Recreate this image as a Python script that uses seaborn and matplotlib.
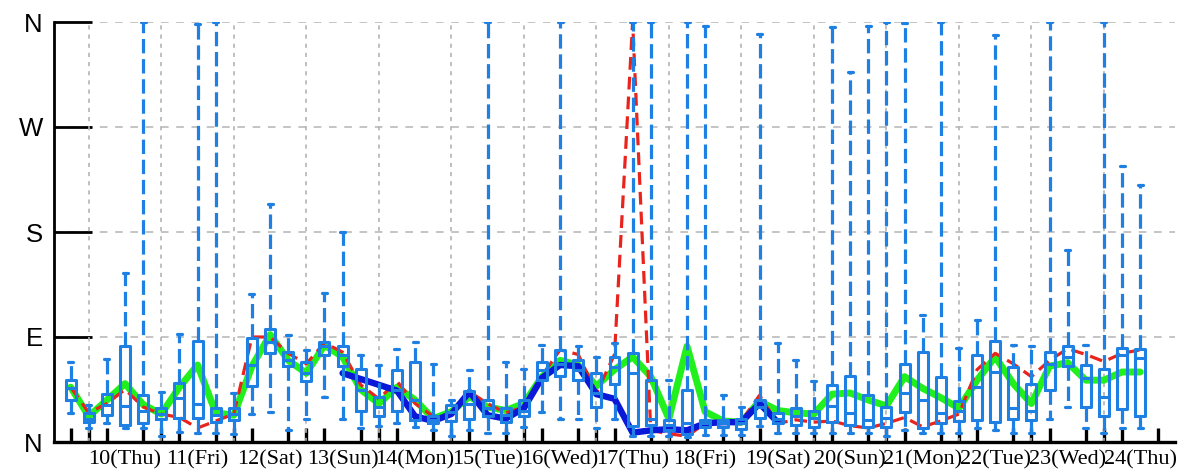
import numpy as np
import pandas as pd
import matplotlib
matplotlib.use("Agg")
import matplotlib.pyplot as plt
import seaborn as sns

# ---- data: 6-hourly wind-direction ensemble (degrees, 0 = N) ----
day_labels = ["10(Thu)", "11(Fri)", "12(Sat)", "13(Sun)", "14(Mon)", "15(Tue)",
              "16(Wed)", "17(Thu)", "18(Fri)", "19(Sat)", "20(Sun)", "21(Mon)",
              "22(Tue)", "23(Wed)", "24(Thu)"]

# valid times, hours after day 10 00 UTC
valid_hours = list(range(-6, 354, 6))
tick_hours = list(range(-6, 360, 6))

whisker_lo = [25, 12, 16, 12, 12, 5, 9, 8, 8, 7,
              24, 26, 10, 20, 39, 20, 12, 14, 16, 13,
              10, 5, 10, 8, 8, 13, 26, 20, 20, 12,
              20, 5, 5, 5, 4, 6, 6, 6, 14, 8,
              8, 8, 8, 8, 8, 5, 10, 8, 8, 8,
              12, 10, 8, 8, 20, 30, 12, 8, 12, 12]
box_q1 = [36, 17, 23, 15, 16, 20, 21, 21, 17, 19,
          48, 76, 65, 52, 75, 65, 27, 22, 27, 19,
          16, 18, 20, 22, 17, 22, 53, 57, 53, 30,
          50, 14, 15, 10, 7, 13, 13, 11, 21, 16,
          15, 13, 17, 15, 13, 13, 26, 12, 16, 18,
          19, 17, 20, 19, 45, 65, 30, 22, 28, 22]
box_median = [46, 20, 32, 31, 27, 24, 38, 33, 23, 24,
              66, 86, 70, 59, 82, 75, 45, 30, 45, 36,
              19, 26, 33, 29, 23, 27, 62, 67, 62, 42,
              64, 59, 20, 15, 16, 16, 16, 16, 30, 20,
              22, 21, 31, 25, 19, 21, 42, 36, 25, 27,
              47, 60, 29, 27, 67, 73, 55, 39, 75, 72]
box_q3 = [53, 25, 41, 82, 40, 29, 51, 87, 29, 29,
          89, 97, 77, 69, 86, 82, 63, 39, 62, 69,
          22, 32, 44, 36, 29, 36, 69, 79, 70, 59,
          73, 76, 53, 19, 45, 19, 19, 20, 36, 25,
          29, 27, 49, 57, 40, 30, 67, 77, 56, 35,
          75, 87, 64, 50, 77, 82, 66, 63, 81, 80]
whisker_hi = [69, 32, 71, 145, 360, 43, 93, 358, 360, 42,
              127, 204, 92, 79, 128, 180, 75, 66, 80, 86,
              67, 36, 62, 360, 69, 63, 83, 360, 82, 73,
              85, 360, 360, 53, 360, 357, 40, 30, 350, 85,
              70, 52, 356, 317, 357, 360, 359, 109, 360, 81,
              105, 349, 83, 82, 360, 165, 83, 360, 237, 220]

ens_mean = [47, 22, 36, 50, 32, 24, 47, 66, 25, 23,
            65, 92, 70, 59, 83, 73, 45, 33, 47, 36,
            20, 26, 39, 30, 27, 33, 56, 70, 66, 48,
            62, 73, 56, 20, 82, 26, 18, 17, 35, 27,
            25, 24, 41, 42, 36, 31, 56, 46, 38, 29,
            53, 73, 50, 33, 65, 68, 53, 53, 60, 60]
control = [47, 25, 33, 45, 30, 24, 21, 12, 18, 24,
           90, 90, 76, 67, 85, 77, 49, 37, 52, 33,
           22, 24, 43, 33, 25, 30, 57, 79, 75, 42,
           75, 360, 10, 7, 5, 16, 16, 18, 40, 16,
           19, 17, 18, 14, 12, 16, 21, 13, 18, 24,
           62, 76, 67, 56, 70, 80, 75, 69, 76, 79]
observed = [None] * 15 + [59, 54, 49, 44, 22, 18, 24, 43, 23, 20,
                          29, 55, 66, 65, 41, 37, 8, 10, 11, 10,
                          16, 17, 17, 33, 17] + [None] * 20

BOX_BLUE = "#1f80e4"
GREEN = "#22f01c"
RED = "#e8241c"
DARK_BLUE = "#0a18d8"
GRID = "#b4b4b4"

sns.set_style("white")
plt.rcParams["font.family"] = ["Liberation Sans", "DejaVu Sans"]

valid_days = [h / 24 for h in valid_hours]
tick_days = [h / 24 for h in tick_hours]

# long-form table: five values per time step give min/quartiles/median/max exactly
rows = []
for t, lo, a, m, b, hi in zip(valid_days, whisker_lo, box_q1, box_median,
                              box_q3, whisker_hi):
    for v in (lo, a, m, b, hi):
        rows.append((t, v))
box_df = pd.DataFrame(rows, columns=["day", "direction"])

lines_df = pd.DataFrame({"day": valid_days, "mean": ens_mean, "control": control,
                         "observed": pd.to_numeric(pd.Series(observed), errors="coerce")})
obs_df = lines_df.dropna(subset=["observed"])

fig = plt.figure(figsize=(11.8, 4.76), dpi=100)
ax = fig.add_axes([54 / 1180, 34 / 476, 1121 / 1180, 420 / 476])

# grid
for d in range(len(day_labels)):
    ax.axvline(d, color=GRID, linestyle=(0, (2.5, 3)), linewidth=1.2, zorder=1)
ax.yaxis.grid(True, color=GRID, linestyle=(0, (5, 5)), linewidth=1.1, zorder=1)
ax.set_axisbelow(True)

sns.lineplot(data=lines_df, x="day", y="mean", color=GREEN, linewidth=5.0,
             estimator=None, sort=False, ax=ax, zorder=3,
             solid_joinstyle="round", solid_capstyle="round")
sns.lineplot(data=lines_df, x="day", y="control", color=RED, linewidth=2.3,
             linestyle=(0, (4, 2.2)), estimator=None, sort=False, ax=ax, zorder=4)
sns.lineplot(data=obs_df, x="day", y="observed", color=DARK_BLUE, linewidth=4.6,
             estimator=None, sort=False, ax=ax, zorder=5,
             solid_joinstyle="round", solid_capstyle="round")

sns.boxplot(data=box_df, x="day", y="direction", native_scale=True,
            whis=(0, 100), width=0.55, fill=False, color=BOX_BLUE,
            linewidth=2.2, showfliers=False,
            whiskerprops=dict(linestyle=(0, (4.5, 1.8)), linewidth=2.3),
            capprops=dict(linewidth=2.3),
            medianprops=dict(color=BOX_BLUE, linewidth=2.2),
            ax=ax, zorder=6)

ax.set_xlim(-0.48, 14.98)
ax.set_ylim(0, 360)
ax.set_xlabel("")
ax.set_ylabel("")

ax.set_yticks([0, 90, 180, 270, 360])
ax.set_yticklabels(["N", "E", "S", "W", "N"], fontsize=18.5,
                   family=["Liberation Sans", "DejaVu Sans"])
ax.set_xticks([d + 0.5 for d in range(len(day_labels))])
ax.set_xticklabels(day_labels, fontsize=16,
                   family=["Liberation Serif", "DejaVu Serif"])
ax.set_xticks(tick_days, minor=True)

ax.tick_params(axis="x", which="major", bottom=True, length=0, pad=6,
               colors="black")
ax.tick_params(axis="x", which="minor", bottom=True, length=10, width=2.4,
               direction="in", color="black")
ax.tick_params(axis="y", which="major", left=True, length=27, width=2.0,
               direction="in", pad=8, colors="black")

for side in ("top", "right"):
    ax.spines[side].set_visible(False)
ax.spines["left"].set_linewidth(2.0)
ax.spines["bottom"].set_linewidth(2.4)
ax.spines["left"].set_color("black")
ax.spines["bottom"].set_color("black")

fig.savefig("out.png", dpi=100)
